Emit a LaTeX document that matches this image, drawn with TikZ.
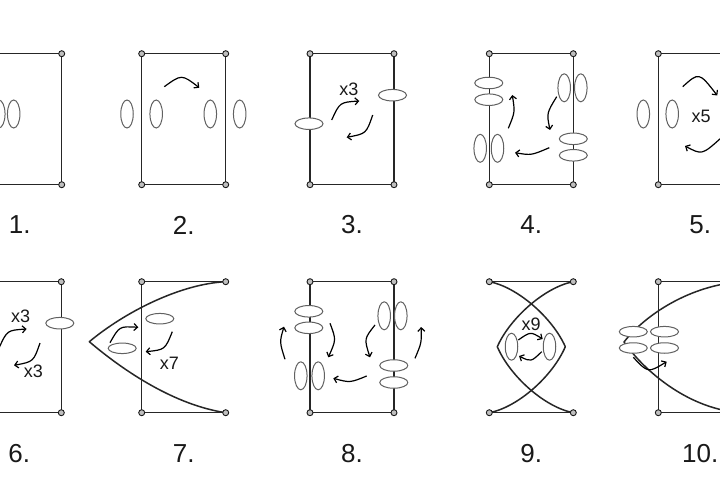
\documentclass[tikz,border=0pt]{standalone}
\usepackage{fontspec}
\setmainfont{Liberation Sans}
\usetikzlibrary{shapes.geometric,arrows.meta}
\definecolor{linec}{gray}{0.15}
\definecolor{ellc}{gray}{0.38}
\tikzset{
  edge/.style={draw=linec,line width=1.5pt,line join=round},
  vell/.style={ellipse,draw=ellc,fill=white,line width=1pt,minimum width=12.5pt,minimum height=28pt,inner sep=0pt},
  hell/.style={ellipse,draw=ellc,fill=white,line width=1pt,minimum width=28pt,minimum height=11.5pt,inner sep=0pt},
  arr/.style={draw=black,line width=1.2pt,-{Straight Barb[length=3.5pt,width=7pt,line width=1.2pt]}},
  dot/.style={circle,draw=black!90,fill=gray!50,line width=0.9pt,minimum size=6pt,inner sep=0pt},
  lab/.style={font=\fontsize{26}{28}\selectfont,text=black!90,inner sep=0pt},
  mult/.style={font=\fontsize{18}{20}\selectfont,text=black!90,inner sep=0pt}
}
\newcommand\pcorners[3]{%
  \coordinate (#1tl) at (#2,#3);
  \coordinate (#1tr) at ({#2+84},#3);
  \coordinate (#1bl) at (#2,{#3+131});
  \coordinate (#1br) at ({#2+84},{#3+131});}
\newcommand\pdots[1]{%
  \node[dot] at (#1tl) {}; \node[dot] at (#1tr) {};
  \node[dot] at (#1bl) {}; \node[dot] at (#1br) {};}
\begin{document}
\begin{tikzpicture}[x=1pt,y=-1pt]
\useasboundingbox (0,0) rectangle (720,500);
\fill[white] (0,0) rectangle (720,500);
% corners
\pcorners{a}{-22.3}{53.7}
\pcorners{b}{141.7}{53.7}
\pcorners{c}{310}{53.7}
\pcorners{d}{489.3}{53.7}
\pcorners{e}{658.3}{53.7}
\pcorners{f}{-22.7}{281.7}
\pcorners{g}{141.7}{281.7}
\pcorners{h}{310}{281.7}
\pcorners{i}{489.3}{281.7}
\pcorners{j}{658.3}{281.7}
% frames
\foreach \p in {a,b,c,d,e,f,h}{\draw[edge] (\p tl) -- (\p tr) -- (\p br) -- (\p bl) -- cycle;}
\draw[edge] (gtr) -- (gtl) -- (gbl) -- (gbr);
\draw[edge] (jtr) -- (jtl) -- (jbl) -- (jbr);
\draw[edge] (itl) -- (itr);
\draw[edge] (ibl) -- (ibr);
% curves
\coordinate (gv) at (89.3,341.7);
\draw[edge] (gtr) .. controls (180,284) and (125,312) .. (gv) .. controls (125,372) and (175,405) .. (gbr);
\coordinate (ivl) at (497.3,346.7);
\coordinate (ivr) at (565.3,346.7);
\draw[edge] (itr) .. controls (545,287) and (510,318) .. (ivl) .. controls (510,376.4) and (545,407.4) .. (ibr);
\draw[edge] (itl) .. controls (517.6,287) and (552.6,318) .. (ivr) .. controls (552.6,376.4) and (517.6,407.4) .. (ibl);
\coordinate (jv) at (624,342);
\draw[edge] (jtr) .. controls (690,285) and (645,315) .. (jv) .. controls (645,372) and (690,410) .. (jbr);
% panel 1
\node[vell] (a1) at (-1.2,114) {};
\node[vell] (a2) at (13.7,114) {};
% panel 2
\node[vell] (b1) at (127,114) {};
\node[vell] (b2) at (156.2,114) {};
\node[vell] (b3) at (210.3,114) {};
\node[vell] (b4) at (239.7,114) {};
\draw[arr] (164.3,86.7) .. controls (181.6,74.2) .. (199.3,87.7);
% panel 3
\node[hell] (c1) at (309,123.7) {};
\node[hell] (c2) at (392.5,95.2) {};
\draw[arr] (331.7,120) .. controls (339.8,102.3) .. (359.3,101);
\draw[arr] (372.7,115) .. controls (366.2,133.7) .. (346.7,137.3);
\node[mult] (c3) at (349,89.3) {x3};
% panel 4
\node[hell] (d1) at (488.8,83) {};
\node[hell] (d2) at (488.8,99.7) {};
\node[vell] (d3) at (480.2,148.3) {};
\node[vell] (d4) at (497.5,148.3) {};
\node[vell] (d5) at (564.2,87.8) {};
\node[vell] (d6) at (580.8,87.8) {};
\node[hell] (d7) at (573.3,138.8) {};
\node[hell] (d8) at (573.3,155.3) {};
\draw[arr] (508.3,128.3) .. controls (515,112.2) .. (512.3,95);
\draw[arr] (556.7,96.7) .. controls (546.6,113.2) .. (550,130);
\draw[arr] (549.3,147.7) .. controls (531.2,155.4) .. (515,152.7);
% panel 5
\node[vell] (e1) at (643.3,114) {};
\node[vell] (e2) at (672.2,114) {};
\draw[arr] (682.7,86.7) .. controls (699,72) .. (717.3,95.5);
\draw[arr] (721,138) .. controls (702,155) .. (685,146);
\node[mult] (e3) at (701,116) {x5};
% panel 6
\node[hell] (f1) at (-23.9,351.7) {};
\node[hell] (f2) at (59.8,323.2) {};
\draw[arr] (-1,348) .. controls (7.1,330.3) .. (26.6,329);
\draw[arr] (40,343) .. controls (33.5,361.7) .. (14,365.3);
\node[mult] (f3) at (20.7,316.7) {x3};
\node[mult] (f4) at (33.3,371.7) {x3};
% panel 7
\node[hell,minimum height=10.5pt] (g1) at (159.8,318.7) {};
\node[hell,minimum height=10.5pt] (g2) at (122.2,348.3) {};
\draw[arr] (110,342.7) .. controls (119.4,326.2) .. (138.3,327.3);
\draw[arr] (172.3,331.7) .. controls (165,349.7) .. (145.7,351.7);
\node[mult] (g3) at (169.3,363.3) {x7};
% panel 8
\node[hell] (h1) at (308.8,311.3) {};
\node[hell] (h2) at (308.8,327.8) {};
\node[vell] (h3) at (300.8,375.8) {};
\node[vell] (h4) at (318.2,375.8) {};
\node[vell] (h5) at (384.2,315.8) {};
\node[vell] (h6) at (400.8,315.8) {};
\node[hell] (h7) at (393.8,365.5) {};
\node[hell] (h8) at (393.8,382.5) {};
\draw[arr] (285,359.3) .. controls (279.5,342) .. (284,326.7);
\draw[arr] (330,323.3) .. controls (336.2,339.7) .. (328.3,357.3);
\draw[arr] (375,325) .. controls (364.1,338.8) .. (370,357.3);
\draw[arr] (366.7,376) .. controls (350,382.8) .. (333.3,378.3);
\draw[arr] (415,358.3) .. controls (421.5,343) .. (421.2,327);
% panel 9
\node[vell,minimum height=27pt] (i1) at (511.5,346.7) {};
\node[vell,minimum height=27pt] (i2) at (549.5,346.7) {};
\draw[arr] (518.3,340) .. controls (530.5,331.5) .. (542.7,339);
\draw[arr] (541.7,351.7) .. controls (531,362) .. (519,356);
\node[mult] (i3) at (531,324.3) {x9};
% panel 10
\node[hell,minimum height=10.5pt] (j1) at (633.3,331.7) {};
\node[hell,minimum height=10.5pt] (j2) at (633.3,348) {};
\node[hell,minimum height=10.5pt] (j3) at (664.5,331.7) {};
\node[hell,minimum height=10.5pt] (j4) at (664.5,348) {};
\draw[arr] (633.3,357.3) .. controls (648,373) .. (666.7,361.7);
% dots
\foreach \p in {a,b,c,d,e,f,g,h,i,j}{\pdots{\p}}
% labels
\node[lab] (l1) at (19.7,225) {1.};
\node[lab] (l2) at (183.7,225) {2.};
\node[lab] (l3) at (352,225) {3.};
\node[lab] (l4) at (531.3,225) {4.};
\node[lab] (l5) at (700.3,225) {5.};
\node[lab] (l6) at (19.3,454) {6.};
\node[lab] (l7) at (183.7,454) {7.};
\node[lab] (l8) at (352,454) {8.};
\node[lab] (l9) at (531.3,454) {9.};
\node[lab] (l10) at (700.3,454) {10.};
\end{tikzpicture}
\end{document}
